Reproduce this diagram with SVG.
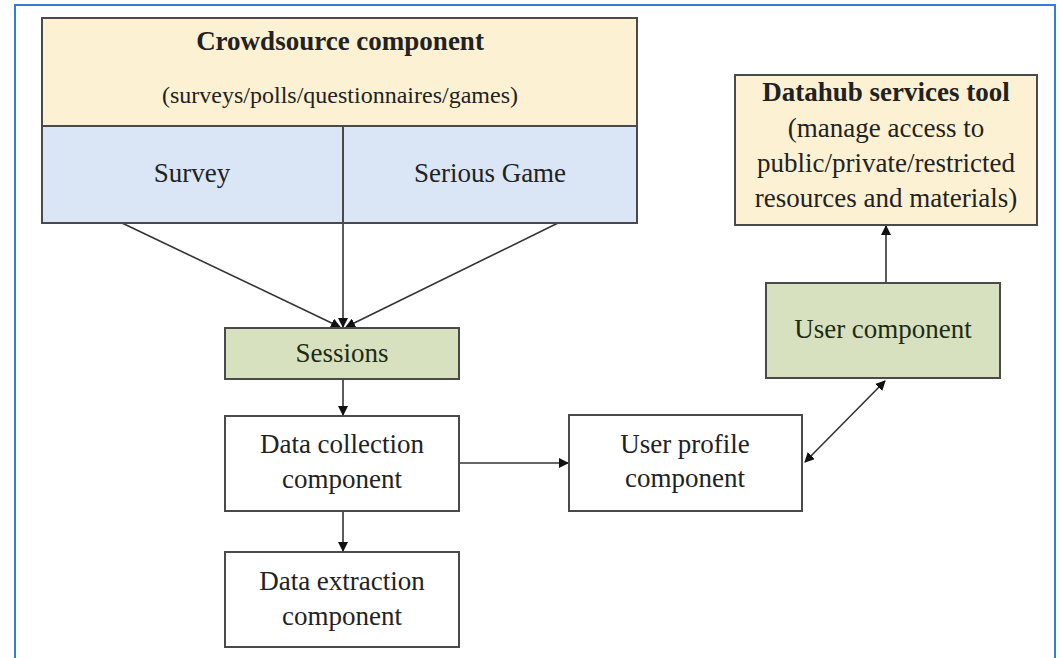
<svg xmlns="http://www.w3.org/2000/svg" width="1063" height="658" viewBox="0 0 1063 658">
<style>
.box{stroke:#4a4a4a;stroke-width:2}
.y{fill:#fdf1d4}
.b{fill:#dae6f6}
.g{fill:#d7e1bf}
.w{fill:#ffffff}
text{font-family:"Liberation Serif","Times New Roman",serif;font-size:27px;fill:#222;text-anchor:middle}
.bold{font-weight:bold}
.gt{fill:#1e2a12}
.con{stroke:#333;stroke-width:1.6;fill:none}
</style>
<defs>
<marker id="ah" markerWidth="10" markerHeight="10" refX="9" refY="5" orient="auto" markerUnits="userSpaceOnUse">
<path d="M0,0 L10,5 L0,10 Z" fill="#111"/>
</marker>
<marker id="ahs" markerWidth="10" markerHeight="10" refX="1" refY="5" orient="auto" markerUnits="userSpaceOnUse">
<path d="M10,0 L0,5 L10,10 Z" fill="#111"/>
</marker>
</defs>
<rect x="0" y="0" width="1063" height="658" fill="#ffffff"/>
<path d="M15,662 L15,5 L1055,5 L1055,662" fill="none" stroke="#2f7fd8" stroke-width="2"/>

<g id="connectors">
<line class="con" x1="122" y1="223" x2="340" y2="327" marker-end="url(#ah)"/>
<line class="con" x1="343" y1="223" x2="343" y2="327" marker-end="url(#ah)"/>
<line class="con" x1="558" y1="223" x2="346" y2="327" marker-end="url(#ah)"/>
<line class="con" x1="343" y1="379" x2="343" y2="415" marker-end="url(#ah)"/>
<line class="con" x1="343" y1="511" x2="343" y2="551" marker-end="url(#ah)"/>
<line class="con" x1="459" y1="463" x2="568" y2="463" marker-end="url(#ah)"/>
<line class="con" x1="886" y1="283" x2="886" y2="226" marker-end="url(#ah)"/>
<line class="con" x1="805" y1="462" x2="885" y2="381" marker-start="url(#ahs)" marker-end="url(#ah)"/>
</g>

<g id="crowdsource">
<rect class="box y" x="42" y="18" width="595" height="108"/>
<text class="bold" x="340" y="50">Crowdsource component</text>
<text x="340" y="103" style="font-size:24px">(surveys/polls/questionnaires/games)</text>
</g>
<g id="survey">
<rect class="box b" x="42" y="126" width="301" height="97"/>
<text x="192" y="182">Survey</text>
</g>
<g id="serious-game">
<rect class="box b" x="343" y="126" width="294" height="97"/>
<text x="490" y="182">Serious Game</text>
</g>

<g id="sessions">
<rect class="box g" x="225" y="328" width="234" height="51"/>
<text class="gt" x="342" y="362">Sessions</text>
</g>

<g id="data-collection">
<rect class="box w" x="225" y="416" width="234" height="95"/>
<text x="342" y="453">Data collection</text>
<text x="342" y="488">component</text>
</g>

<g id="data-extraction">
<rect class="box w" x="225" y="552" width="234" height="95"/>
<text x="342" y="590">Data extraction</text>
<text x="342" y="625">component</text>
</g>

<g id="user-profile">
<rect class="box w" x="569" y="415" width="233" height="96"/>
<text x="685" y="453">User profile</text>
<text x="685" y="487">component</text>
</g>

<g id="user-component">
<rect class="box g" x="766" y="283" width="234" height="95"/>
<text class="gt" x="883" y="338">User component</text>
</g>

<g id="datahub">
<rect class="box y" x="735" y="75" width="302" height="150"/>
<text class="bold" x="886" y="101">Datahub services tool</text>
<text x="886" y="137">(manage access to</text>
<text x="886" y="172">public/private/restricted</text>
<text x="886" y="207">resources and materials)</text>
</g>
</svg>
